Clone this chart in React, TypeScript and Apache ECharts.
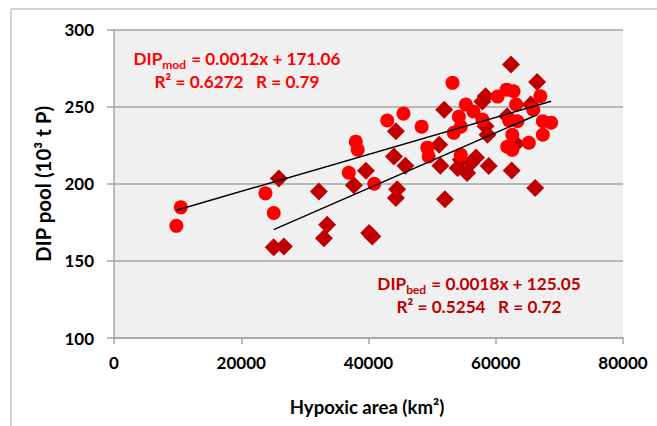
import React, { useEffect, useRef } from "react";
import * as echarts from "echarts";

// Hypoxic area (km2) and DIP pool (10^3 t P)
const modX = [9800, 10500, 23800, 25100, 36900, 38000, 38300, 40900, 42950, 45500, 48350, 49250, 49450, 53200, 53400, 54200, 54500, 54500, 55300, 56500, 57900, 60300, 61700, 62800, 63200, 62100, 63400, 62600, 61800, 62600, 65200, 67000, 65900, 67400, 68700, 67400];
const modY = [172.7, 184.7, 193.8, 181, 207.1, 227.3, 222.1, 200, 241, 245.5, 237, 223.4, 217.7, 265.4, 233, 243.5, 237, 218.8, 251.3, 246.8, 241.6, 256.5, 261, 260, 251.3, 241, 240.5, 231.8, 224, 222, 226.6, 256.7, 248, 240.5, 239.6, 231.8];

const bedX = [25100, 26700, 25900, 32200, 33000, 33500, 37700, 39600, 40100, 40600, 44000, 44300, 44500, 44300, 45800, 51100, 51300, 51900, 52000, 54000, 55500, 56100, 57900, 58400, 58700, 58900, 62400, 62500, 63200, 65500, 66200, 66500, 61800, 58400, 54500, 56900];
const bedY = [158.8, 159.4, 203.4, 195, 164.7, 173.4, 199, 208.4, 168, 165.8, 217.7, 234, 196.4, 190.7, 211.7, 225.3, 211.7, 248, 190, 210.2, 207, 213.4, 253.4, 256.7, 231.8, 211.5, 277.3, 208.6, 226, 251.3, 197.2, 265.9, 243.7, 237.2, 215.6, 217];

// Regression: slope, intercept
const modFit = [0.0012, 171.06];
const bedFit = [0.0018, 125.05];

const xTicks = ["0", "20000", "40000", "60000", "80000"];
const yTicks = ["100", "150", "200", "250", "300"];

const modLabel1 = ["DIP", "mod", " = 0.0012x + 171.06"];
const modLabel2 = "R² = 0.6272   R = 0.79";
const bedLabel1 = ["DIP", "bed", " = 0.0018x + 125.05"];
const bedLabel2 = "R² = 0.5254   R = 0.72";

const xTitle = "Hypoxic area (km²)";
const yTitle = "DIP pool (10³ t P)";

const FONT = "Lato";

function fitLine(xs: number[], fit: number[]) {
  const lo = Math.min(...xs);
  const hi = Math.max(...xs);
  return [
    [lo, fit[0] * lo + fit[1]],
    [hi, fit[0] * hi + fit[1]],
  ];
}

function richFor(color: string) {
  return {
    a: { fontFamily: FONT, fontWeight: "bold", fontSize: 17.2, fill: color, lineHeight: 23 },
    s: { fontFamily: FONT, fontWeight: "bold", fontSize: 12, fill: color, lineHeight: 23, verticalAlign: "bottom", padding: [7, 1, 0, 0] },
  } as any;
}

export default function App() {
  const ref = useRef<HTMLDivElement>(null);
  useEffect(() => {
    if (!ref.current) return;
    const chart = echarts.init(ref.current, null, { renderer: "svg" });
    const gridColor = "#a6a6a6";
    chart.setOption({
      animation: false,
      backgroundColor: "#ffffff",
      grid: {
        left: 114,
        right: 34,
        top: 29.5,
        bottom: 88,
        show: true,
        backgroundColor: "#f0f0f0",
        borderWidth: 0,
      },
      xAxis: {
        type: "value",
        min: 0,
        max: 80000,
        interval: 20000,
        axisLine: { show: true, lineStyle: { color: gridColor, width: 1.5 } },
        axisTick: { show: true, length: 6, lineStyle: { color: gridColor, width: 1.5 } },
        splitLine: { show: false },
        axisLabel: {
          margin: 16,
          color: "#000",
          fontFamily: FONT,
          fontWeight: "bold",
          fontSize: 17,
          formatter: (v: number) => xTicks[Math.round(v / 20000)] ?? String(v),
        },
      },
      yAxis: {
        type: "value",
        min: 100,
        max: 300,
        interval: 50,
        axisLine: { show: true, lineStyle: { color: gridColor, width: 1.5 } },
        axisTick: { show: true, length: 7, lineStyle: { color: gridColor, width: 1.5 } },
        splitLine: { show: true, lineStyle: { color: gridColor, width: 1.5 } },
        axisLabel: {
          margin: 20,
          color: "#000",
          fontFamily: FONT,
          fontWeight: "bold",
          fontSize: 17,
          formatter: (v: number) => yTicks[Math.round((v - 100) / 50)] ?? String(v),
        },
      },
      series: [
        {
          type: "scatter",
          name: "bed",
          symbol: "diamond",
          symbolSize: 18,
          itemStyle: { color: "#c00000", opacity: 1 },
          data: bedX.map((x, i) => [x, bedY[i]]),
          z: 2,
        },
        {
          type: "scatter",
          name: "mod",
          symbol: "circle",
          symbolSize: 14,
          itemStyle: { color: "#ff0000", opacity: 1 },
          data: modX.map((x, i) => [x, modY[i]]),
          z: 3,
        },
        {
          type: "line",
          data: fitLine(modX, modFit),
          symbol: "none",
          lineStyle: { color: "#000", width: 1.5 },
          z: 4,
        },
        {
          type: "line",
          data: fitLine(bedX, bedFit),
          symbol: "none",
          lineStyle: { color: "#000", width: 1.5 },
          z: 4,
        },
      ],
      graphic: [
        { type: "line", shape: { x1: 11, y1: 9, x2: 657, y2: 9 }, style: { stroke: "#a6a6a6", lineWidth: 1 } },
        { type: "line", shape: { x1: 11, y1: 9, x2: 11, y2: 426 }, style: { stroke: "#a6a6a6", lineWidth: 1 } },
        {
          type: "text",
          x: 237,
          y: 47,
          style: {
            text: `{a|${modLabel1[0]}}{s|${modLabel1[1]}}{a|${modLabel1[2]}}\n{a|${modLabel2}}`,
            rich: richFor("#ff0000"),
            align: "center",
            verticalAlign: "top",
          },
          z: 10,
        },
        {
          type: "text",
          x: 479,
          y: 272,
          style: {
            text: `{a|${bedLabel1[0]}}{s|${bedLabel1[1]}}{a|${bedLabel1[2]}}\n{a|${bedLabel2}}`,
            rich: richFor("#c00000"),
            align: "center",
            verticalAlign: "top",
          },
          z: 10,
        },
        {
          type: "text",
          x: 367,
          y: 407,
          style: {
            text: xTitle,
            fontFamily: FONT,
            fontWeight: "bold",
            fontSize: 18.6,
            fill: "#000",
            align: "center",
            verticalAlign: "middle",
          },
        },
        {
          type: "text",
          x: 42.5,
          y: 184,
          rotation: Math.PI / 2,
          style: {
            text: yTitle,
            fontFamily: FONT,
            fontWeight: "bold",
            fontSize: 20.5,
            fill: "#000",
            align: "center",
            verticalAlign: "middle",
          },
        },
      ],
    });
    return () => chart.dispose();
  }, []);
  return (
    <div
      ref={ref}
      style={{ position: "fixed", left: 0, top: 0, width: 657, height: 426 }}
    />
  );
}
